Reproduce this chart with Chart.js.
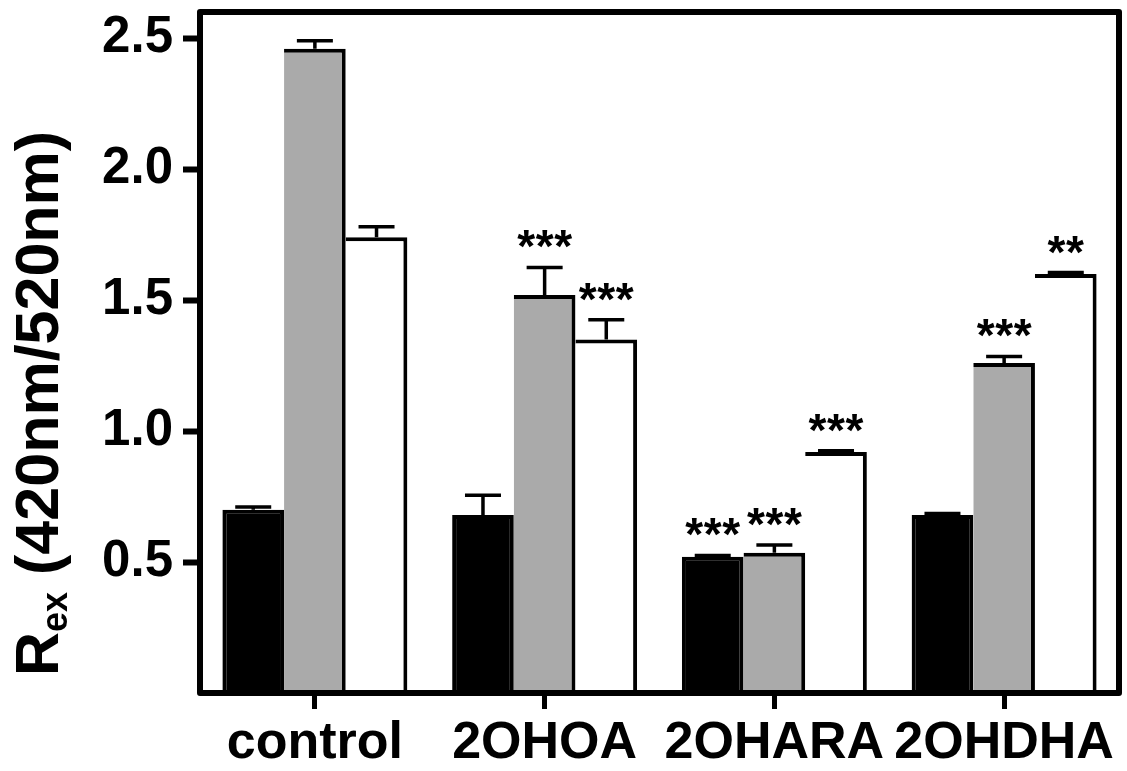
<!DOCTYPE html>
<html>
<head>
<meta charset="utf-8">
<script src="https://cdn.jsdelivr.net/npm/chart.js@4"></script>
<style>
  html, body { margin: 0; padding: 0; background: #ffffff; }
  canvas { display: block; }
</style>
</head>
<body>
<canvas id="c" width="1127" height="771"></canvas>
<script>
// ---- data ----
const categories = ['control', '2OHOA', '2OHARA', '2OHDHA'];
const valuesBlack = [0.70, 0.68, 0.52, 0.68];
const valuesGray  = [2.46, 1.52, 0.535, 1.26];
const valuesWhite = [1.74, 1.35, 0.92, 1.60];
const errBlack = [0.01, 0.075, 0.005, 0.005];
const errGray  = [0.03, 0.105, 0.03, 0.025];
const errWhite = [0.04, 0.075, 0.005, 0.005];
const starsBlack = ['', '', '***', ''];
const starsGray  = ['', '***', '***', '***'];
const starsWhite = ['', '***', '***', '**'];
const yTickValues = [0.5, 1.0, 1.5, 2.0, 2.5];

const FONT = '"Liberation Sans", Arial, sans-serif';

const errorPlugin = {
  id: 'errorStars',
  beforeDraw(chart) {
    const ctx = chart.ctx;
    ctx.save();
    ctx.fillStyle = '#ffffff';
    ctx.fillRect(0, 0, chart.width, chart.height);
    ctx.restore();
  },
  afterDatasetsDraw(chart) {
    const ctx = chart.ctx;
    const ys = chart.scales.y;
    chart.data.datasets.forEach((ds, i) => {
      const meta = chart.getDatasetMeta(i);
      meta.data.forEach((el, j) => {
        const v = ds.data[j];
        const e = ds.errors[j];
        const x = el.x;
        const yBar = ys.getPixelForValue(v);
        const yTop = ys.getPixelForValue(v + e);
        ctx.save();
        ctx.strokeStyle = '#000';
        ctx.lineWidth = 3.5;
        ctx.lineCap = 'butt';
        ctx.beginPath();
        ctx.moveTo(x, yBar);
        ctx.lineTo(x, yTop);
        ctx.moveTo(x - 18, yTop);
        ctx.lineTo(x + 18, yTop);
        ctx.stroke();
        const s = ds.stars[j];
        if (s) {
          ctx.font = 'bold 46px ' + FONT;
          ctx.fillStyle = '#000';
          ctx.textAlign = 'center';
          ctx.textBaseline = 'alphabetic';
          const m = ctx.measureText('*');
          const cy = yTop - 28;
          const base = cy + (m.actualBoundingBoxAscent - m.actualBoundingBoxDescent) / 2;
          const n = s.length, sp = 18.5;
          for (let k = 0; k < n; k++) {
            ctx.fillText(s[k], x + (k - (n - 1) / 2) * sp, base);
          }
        }
        ctx.restore();
      });
    });
    // frame
    const a = chart.chartArea;
    ctx.save();
    ctx.strokeStyle = '#000';
    ctx.lineWidth = 6;
    ctx.lineJoin = 'round';
    ctx.strokeRect(a.left, a.top, a.right - a.left, a.bottom - a.top);
    ctx.restore();
    // y axis title with subscript
    ctx.save();
    ctx.translate(58, 676);
    ctx.rotate(-Math.PI / 2);
    ctx.fillStyle = '#000';
    ctx.textAlign = 'left';
    ctx.textBaseline = 'alphabetic';
    ctx.font = 'bold 61px ' + FONT;
    ctx.fillText('R', 0, 0);
    let w = ctx.measureText('R').width;
    ctx.font = 'bold 36px ' + FONT;
    ctx.fillText('ex', w, 9);
    w += ctx.measureText('ex').width;
    ctx.font = 'bold 61px ' + FONT;
    ctx.fillText(' (420nm/520nm)', w, 0);
    ctx.restore();
  }
};

new Chart(document.getElementById('c'), {
  type: 'bar',
  data: {
    labels: categories,
    datasets: [
      { data: valuesBlack, errors: errBlack, stars: starsBlack,
        backgroundColor: '#000000', borderColor: '#000000',
        borderWidth: {top: 4, left: 4, right: 4, bottom: 0}, borderSkipped: false },
      { data: valuesGray, errors: errGray, stars: starsGray,
        backgroundColor: '#aaaaaa', borderColor: '#000000',
        borderWidth: {top: 4, left: 0, right: 4, bottom: 0}, borderSkipped: false },
      { data: valuesWhite, errors: errWhite, stars: starsWhite,
        backgroundColor: '#ffffff', borderColor: '#000000',
        borderWidth: {top: 4, left: 0, right: 4, bottom: 0}, borderSkipped: false }
    ]
  },
  options: {
    responsive: false,
    animation: false,
    devicePixelRatio: 1,
    layout: { padding: { top: 12, right: 8, left: 0, bottom: 0 } },
    datasets: { bar: { categoryPercentage: 0.805, barPercentage: 1.0 } },
    plugins: { legend: { display: false }, tooltip: { enabled: false }, title: { display: false } },
    scales: {
      x: {
        offset: true,
        grid: { offset: false, drawOnChartArea: false, drawTicks: true, tickLength: 16, tickWidth: 5, tickColor: '#000', color: '#000' },
        border: { display: false },
        ticks: { color: '#000', padding: 3, font: { family: FONT, size: 52, weight: 'bold' } },
        afterFit(s) { s.height = 78; s.paddingLeft = 0; s.paddingRight = 0; }
      },
      y: {
        min: 0, max: 2.6,
        afterBuildTicks(s) { s.ticks = yTickValues.map(v => ({ value: v })); },
        grid: { drawOnChartArea: false, drawTicks: true, tickLength: 17, tickWidth: 6, tickColor: '#000', color: '#000' },
        border: { display: false },
        ticks: { color: '#000', padding: 10, font: { family: FONT, size: 51, weight: 'bold' },
                 callback: v => Number(v).toFixed(1) },
        afterFit(s) { s.width = 200; s.paddingTop = 0; s.paddingBottom = 0; }
      }
    }
  },
  plugins: [errorPlugin]
});
</script>
</body>
</html>
